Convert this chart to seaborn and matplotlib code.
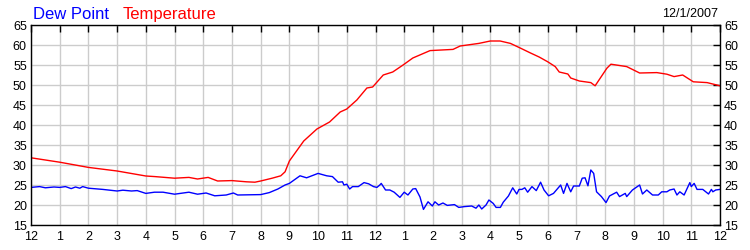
import matplotlib
matplotlib.use("Agg")
import matplotlib.pyplot as plt
import seaborn as sns
import pandas as pd

# ---- data ----
temp_hours = [0, 1, 2, 3, 4, 4.32, 5, 5.5, 5.8, 6.17, 6.5, 7, 7.5, 7.8, 8, 8.4, 8.7, 8.85,
              9.0, 9.25, 9.5, 9.96, 10.4, 10.77, 11, 11.35, 11.7, 11.9, 12.27, 12.6, 12.96,
              13.3, 13.9, 14.7, 14.95, 15.6, 16, 16.34, 16.7, 17.04, 17.4, 17.7, 18, 18.26,
              18.4, 18.7, 18.8, 19.1, 19.5, 19.65, 20.06, 20.2, 20.75, 21.2, 21.8, 22.15,
              22.4, 22.7, 23.07, 23.55, 24]
temp_vals = [31.8, 30.7, 29.4, 28.5, 27.25, 27.1, 26.7, 26.9, 26.5, 26.9, 26.0, 26.1, 25.8,
             25.7, 26.0, 26.7, 27.3, 28.3, 31.0, 33.5, 36.0, 39.0, 40.75, 43.25, 44.0, 46.25,
             49.25, 49.5, 52.5, 53.25, 55.0, 56.75, 58.6, 58.9, 59.75, 60.4, 61.0, 61.0, 60.4,
             59.25, 58.0, 57.0, 55.8, 54.6, 53.25, 52.75, 51.75, 51.0, 50.6, 49.8, 54.2, 55.2,
             54.6, 53.0, 53.1, 52.7, 52.1, 52.5, 50.8, 50.6, 49.8]

dew_hours = [0, 0.3, 0.5, 0.8, 1, 1.2, 1.4, 1.55, 1.7, 1.8, 2, 2.5, 3, 3.2, 3.5, 3.7, 4, 4.3,
             4.6, 5, 5.5, 5.8, 6.1, 6.4, 6.8, 7.05, 7.2, 8, 8.3, 8.6, 8.85, 9, 9.37, 9.6, 10,
             10.3, 10.5, 10.7, 10.85, 10.9, 11, 11.1, 11.2, 11.4, 11.6, 11.76, 11.93, 12.05,
             12.15, 12.2, 12.35, 12.5, 12.65, 12.85, 13, 13.13, 13.3, 13.4, 13.55, 13.67,
             13.83, 13.98, 14.07, 14.2, 14.35, 14.5, 14.75, 14.9, 15.1, 15.35, 15.5, 15.6,
             15.7, 15.85, 15.95, 16.1, 16.2, 16.35, 16.45, 16.63, 16.78, 16.92, 17.0, 17.1,
             17.2, 17.3, 17.45, 17.6, 17.75, 17.87, 18.03, 18.2, 18.45, 18.55, 18.67, 18.8,
             18.9, 19.1, 19.2, 19.3, 19.4, 19.5, 19.6, 19.7, 19.87, 20.03, 20.15, 20.4, 20.5,
             20.7, 20.75, 20.95, 21.2, 21.3, 21.45, 21.65, 21.85, 21.97, 22.15, 22.25, 22.4,
             22.5, 22.6, 22.75, 22.95, 23.0, 23.1, 23.2, 23.4, 23.6, 23.7, 23.75, 23.85, 24]
dew_vals = [24.4, 24.6, 24.3, 24.5, 24.4, 24.6, 24.1, 24.5, 24.2, 24.6, 24.2, 23.9, 23.5, 23.7,
            23.5, 23.6, 22.9, 23.2, 23.2, 22.7, 23.2, 22.7, 23.0, 22.3, 22.5, 23.0, 22.5, 22.6,
            23.1, 24.0, 25.0, 25.4, 27.3, 26.8, 27.9, 27.3, 27.1, 25.7, 25.8, 25.0, 25.2, 24.0,
            24.6, 24.6, 25.6, 25.3, 24.6, 24.4, 25.0, 25.4, 23.75, 23.75, 23.2, 21.9, 23.2, 22.5,
            24.0, 24.1, 22.0, 18.9, 20.8, 19.75, 20.8, 20.0, 20.5, 19.9, 20.1, 19.4, 19.6, 19.75,
            19.2, 20.0, 19.0, 20.0, 21.25, 20.4, 19.4, 19.4, 20.7, 22.25, 24.3, 22.75, 23.9, 23.9,
            24.3, 23.2, 24.6, 23.6, 25.7, 23.75, 22.3, 22.9, 25.0, 22.9, 25.4, 23.3, 24.75, 24.75,
            26.7, 26.8, 24.8, 28.75, 27.9, 23.3, 22.1, 20.6, 22.25, 23.2, 22.1, 22.9, 22.1, 23.75,
            25.0, 22.75, 23.75, 22.5, 22.5, 23.3, 23.3, 23.75, 24.0, 22.5, 23.3, 22.5, 25.6, 24.6,
            25.4, 23.9, 23.9, 22.75, 23.9, 23.3, 23.75, 23.9]

tick_hours = list(range(0, 25))
tick_labels = ["12", "1", "2", "3", "4", "5", "6", "7", "8", "9", "10", "11",
               "12", "1", "2", "3", "4", "5", "6", "7", "8", "9", "10", "11", "12"]
y_ticks = [15, 20, 25, 30, 35, 40, 45, 50, 55, 60, 65]
date_label = "12/1/2007"

# ---- plot ----
sns.set_style("white")
plt.rcParams['font.family'] = ['Liberation Sans', 'DejaVu Sans']

fig = plt.figure(figsize=(7.5, 2.5), dpi=100)
ax = fig.add_axes([31/750, 25/250, (720-31)/750, 200/250])

temp_df = pd.DataFrame({"hour": temp_hours, "value": temp_vals})
dew_df = pd.DataFrame({"hour": dew_hours, "value": dew_vals})
sns.lineplot(data=temp_df, x="hour", y="value", color="#ff0000", lw=1.0, ax=ax,
             estimator=None, sort=False)
sns.lineplot(data=dew_df, x="hour", y="value", color="#0000ff", lw=1.0, ax=ax,
             estimator=None, sort=False)

ax.set_xlim(0, 24)
ax.set_ylim(15, 65)
ax.set_xticks(tick_hours)
ax.set_xticklabels(tick_labels)
ax.set_yticks(y_ticks)
ax.set_xlabel("")
ax.set_ylabel("")
ax.grid(True, color="#cccccc", lw=1.0)
ax.set_axisbelow(True)
for s in ax.spines.values():
    s.set_color("black")
    s.set_linewidth(1.0)
ax.tick_params(axis="both", direction="in", length=5, width=1, color="black",
               labelsize=9, labelcolor="black",
               top=True, right=True, labelright=True, labeltop=False)
ax.tick_params(axis="x", pad=4)
ax.tick_params(axis="y", pad=3)

fig.text(33/750, 1 - 19/250, "Dew Point", color="#0000ff", fontsize=12, ha="left",
         va="baseline")
fig.text(123/750, 1 - 19/250, "Temperature", color="#ff0000", fontsize=12, ha="left",
         va="baseline")
fig.text(718/750, 1 - 17/250, date_label, color="black", fontsize=9, ha="right",
         va="baseline")

fig.savefig("out.png", dpi=100)
